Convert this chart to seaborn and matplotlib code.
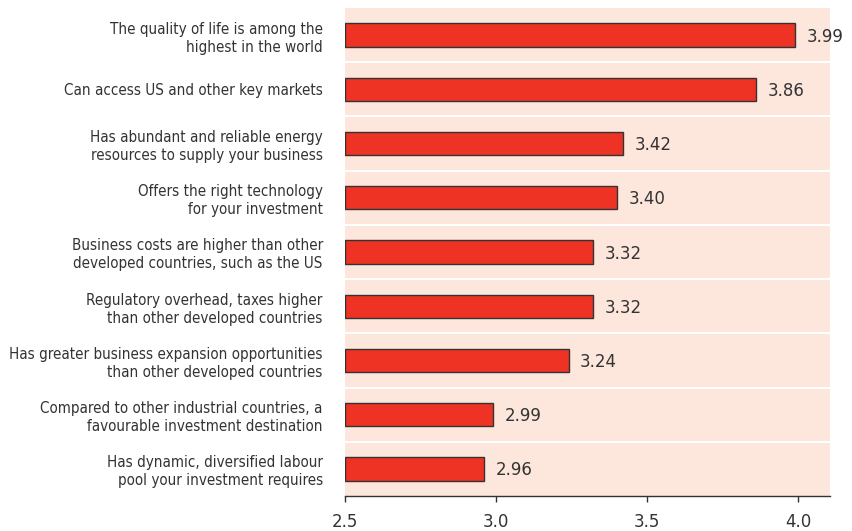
import matplotlib
matplotlib.use("Agg")
import matplotlib.pyplot as plt
import seaborn as sns
import pandas as pd

# survey statements (top to bottom) and mean scores
statements = [
    "The quality of life is among the\nhighest in the world",
    "Can access US and other key markets",
    "Has abundant and reliable energy\nresources to supply your business",
    "Offers the right technology\nfor your investment",
    "Business costs are higher than other\ndeveloped countries, such as the US",
    "Regulatory overhead, taxes higher\nthan other developed countries",
    "Has greater business expansion opportunities\nthan other developed countries",
    "Compared to other industrial countries, a\nfavourable investment destination",
    "Has dynamic, diversified labour\npool your investment requires",
]
scores = [3.99, 3.86, 3.42, 3.40, 3.32, 3.32, 3.24, 2.99, 2.96]
x_ticks = [2.5, 3.0, 3.5, 4.0]
baseline = 2.5

df = pd.DataFrame({"statement": statements, "score": scores})

sns.set_style("white")
plt.rcParams["font.family"] = ["DejaVu Sans"]

fig = plt.figure(figsize=(8.53, 5.31), dpi=100)
ax = fig.add_axes([0.4045, 0.066, 0.5685, 0.919])
ax.set_facecolor("#fde6dc")

sns.barplot(data=df, x="score", y="statement", orient="h", color="#ee3224",
            saturation=1, width=0.43, edgecolor="#333333", linewidth=1.0, ax=ax)

# bars start at the axis baseline rather than zero
for p in ax.patches:
    w = p.get_x() + p.get_width()
    p.set_x(baseline)
    p.set_width(w - baseline)

for i, v in enumerate(scores):
    ax.text(v + 0.038, i + 0.03, f"{v:.2f}", va="center", ha="left",
            fontsize=12, color="#333333")

# white separators between rows
for i in range(len(statements) - 1):
    ax.axhline(i + 0.5, color="white", linewidth=1.5)

ax.set_xlim(baseline, 4.105)
ax.set_ylim(len(statements) - 0.5, -0.5)
ax.set_xticks(x_ticks)
ax.set_xticklabels([f"{t:.1f}" for t in x_ticks], fontsize=12, color="#333333")
ax.set_yticks(range(len(statements)))
ax.set_yticklabels(statements, fontsize=10.9, color="#333333", linespacing=1.25,
                   fontstretch="condensed")
ax.tick_params(axis="y", length=0, pad=16)
ax.tick_params(axis="x", direction="out", length=4.5, width=1, color="#333333", pad=7.5, bottom=True)
ax.set_xlabel("")
ax.set_ylabel("")

for s in ["top", "right", "left"]:
    ax.spines[s].set_visible(False)
ax.spines["bottom"].set_color("#333333")
ax.spines["bottom"].set_linewidth(1)

fig.savefig("out.png", dpi=100)
